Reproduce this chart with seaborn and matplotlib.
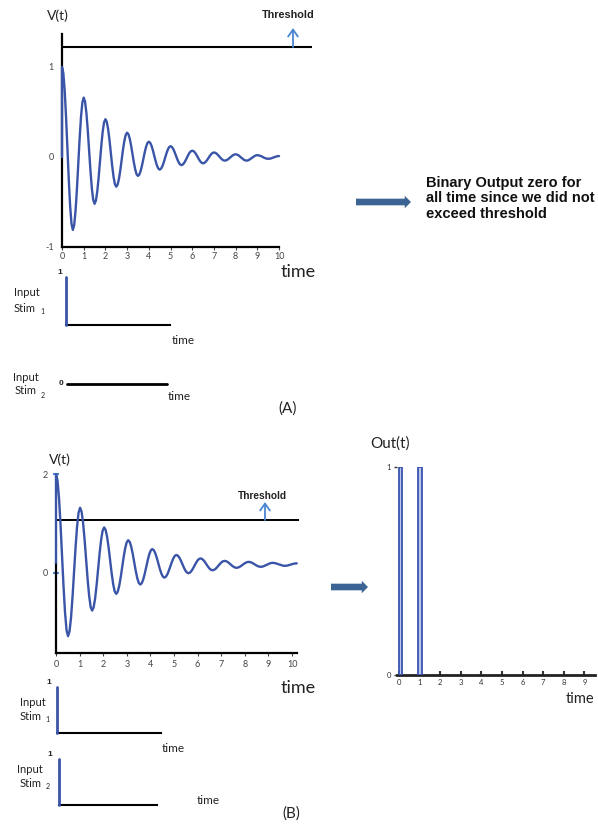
import numpy as np
import pandas as pd
import matplotlib
matplotlib.use("Agg")
import matplotlib.pyplot as plt
import seaborn as sns
from matplotlib.patches import FancyArrowPatch, ArrowStyle

# ---------------- data ----------------
# Panel A: V(t) response, sampled every 0.0625 time units (first point: start at 0)
va_time = [0.0] + list(np.arange(0, 10.0001, 0.0625))
va_values = [0.0,
    1.00, 0.931, 0.735, 0.442, 0.095, -0.252, -0.545, -0.741,
    -0.81, -0.754, -0.595, -0.357, -0.075, 0.207, 0.445, 0.604,
    0.66, 0.615, 0.487, 0.296, 0.07, -0.156, -0.347, -0.475,
    -0.52, -0.484, -0.382, -0.23, -0.05, 0.13, 0.282, 0.384,
    0.42, 0.392, 0.31, 0.189, 0.045, -0.099, -0.22, -0.302,
    -0.33, -0.307, -0.242, -0.145, -0.03, 0.085, 0.182, 0.247,
    0.27, 0.252, 0.20, 0.122, 0.03, -0.062, -0.14, -0.192,
    -0.21, -0.196, -0.154, -0.093, -0.02, 0.053, 0.114, 0.156,
    0.17, 0.158, 0.125, 0.074, 0.015, -0.044, -0.095, -0.128,
    -0.14, -0.13, -0.102, -0.06, -0.01, 0.04, 0.082, 0.11,
    0.12, 0.112, 0.089, 0.055, 0.015, -0.025, -0.059, -0.082,
    -0.09, -0.084, -0.067, -0.041, -0.01, 0.021, 0.047, 0.064,
    0.07, 0.065, 0.05, 0.027, 0.0, -0.027, -0.05, -0.065,
    -0.07, -0.065, -0.052, -0.033, -0.01, 0.013, 0.032, 0.045,
    0.05, 0.047, 0.037, 0.022, 0.005, -0.012, -0.027, -0.037,
    -0.04, -0.037, -0.03, -0.018, -0.005, 0.008, 0.02, 0.027,
    0.03, 0.027, 0.02, 0.008, -0.005, -0.018, -0.03, -0.037,
    -0.04, -0.038, -0.031, -0.021, -0.01, 0.001, 0.011, 0.018,
    0.02, 0.018, 0.014, 0.008, 0.0, -0.008, -0.014, -0.018,
    -0.02, -0.019, -0.016, -0.011, -0.005, 0.001, 0.006, 0.009,
    0.01]

# Panel B: V(t) response, sampled every 0.06375 time units (first point: start at 0.2)
vb_time = [0.0] + list(np.linspace(0, 10.2, 161))
vb_values = [0.2,
    2.00, 1.875, 1.518, 0.985, 0.355, -0.275, -0.808, -1.165,
    -1.29, -1.191, -0.908, -0.485, 0.015, 0.515, 0.938, 1.221,
    1.32, 1.241, 1.014, 0.675, 0.275, -0.125, -0.464, -0.691,
    -0.77, -0.706, -0.522, -0.249, 0.075, 0.399, 0.672, 0.856,
    0.92, 0.869, 0.722, 0.504, 0.245, -0.014, -0.232, -0.379,
    -0.43, -0.389, -0.27, -0.094, 0.115, 0.324, 0.50, 0.619,
    0.66, 0.626, 0.528, 0.382, 0.21, 0.038, -0.108, -0.206,
    -0.24, -0.213, -0.135, -0.018, 0.12, 0.258, 0.375, 0.453,
    0.48, 0.458, 0.395, 0.301, 0.19, 0.079, -0.015, -0.078,
    -0.10, -0.083, -0.033, 0.042, 0.13, 0.218, 0.293, 0.343,
    0.36, 0.346, 0.306, 0.246, 0.175, 0.104, 0.044, 0.004,
    -0.01, 0.001, 0.034, 0.083, 0.14, 0.197, 0.246, 0.279,
    0.29, 0.281, 0.255, 0.216, 0.17, 0.124, 0.085, 0.059,
    0.05, 0.057, 0.078, 0.109, 0.145, 0.181, 0.212, 0.233,
    0.24, 0.235, 0.219, 0.197, 0.17, 0.143, 0.121, 0.105,
    0.10, 0.105, 0.118, 0.137, 0.16, 0.183, 0.202, 0.215,
    0.22, 0.216, 0.205, 0.189, 0.17, 0.151, 0.135, 0.124,
    0.12, 0.123, 0.132, 0.145, 0.16, 0.175, 0.188, 0.197,
    0.20, 0.198, 0.191, 0.181, 0.17, 0.159, 0.149, 0.142,
    0.14, 0.142, 0.147, 0.155, 0.165, 0.175, 0.183, 0.188,
    0.19]

threshold_a = 1.22
threshold_b = 1.07

a_xticks = list(range(0, 11))
a_yticks = [-1, 0, 1]
b_xticks = list(range(0, 11))
b_yticks = [0, 2]

# Stimulus traces
stim_pulse_t = [0, 0]
stim_pulse_v = [0, 1]
stim_zero_t = [0, 10]
stim_zero_v = [0, 0]

# Binary output Out(t)
out_start = [0.0, 0.94]
out_width = [0.16, 0.16]
out_value = [1, 1]
out_xticks = list(range(0, 10))
out_yticks = [0, 1]

# ---------------- style ----------------
sns.set_theme(style="white")
plt.rcParams["font.family"] = ["Lato", "DejaVu Sans"]

BLUE = "#3a55a8"
LBLUE = "#4a86d0"
ARROW = "#3b6394"
TICKC = "#444444"
TXT = "#222222"

W, H = 598, 825
fig = plt.figure(figsize=(W / 100, H / 100), dpi=100)
fig.patch.set_facecolor("white")


def add_ax(x0, y0, x1, y1):
    ax = fig.add_axes([x0 / W, 1 - y1 / H, (x1 - x0) / W, (y1 - y0) / H])
    ax.set_facecolor("none")
    return ax


def ftxt(x, y, s, **kw):
    kw.setdefault("ha", "center")
    kw.setdefault("va", "center")
    kw.setdefault("color", TXT)
    fig.text(x / W, 1 - y / H, s, **kw)


def farrow(x0, y0, x1, y1, style, color, lw=0, ms=10):
    fig.add_artist(FancyArrowPatch((x0 / W, 1 - y0 / H), (x1 / W, 1 - y1 / H),
                                   transform=fig.transFigure, arrowstyle=style,
                                   color=color, lw=lw, mutation_scale=ms,
                                   shrinkA=0, shrinkB=0))


def plain(ax):
    for s in ["top", "right"]:
        ax.spines[s].set_visible(False)


def stim_axes(box, t, v, color, baseline=True):
    ax = add_ax(*box)
    sns.lineplot(x=t, y=v, ax=ax, color=color, lw=2, sort=False, estimator=None)
    ax.set_xlim(0, 10)
    ax.set_ylim(0, 1)
    for s in ["top", "right", "left"]:
        ax.spines[s].set_visible(False)
    if baseline:
        ax.spines["bottom"].set_color("black")
        ax.spines["bottom"].set_linewidth(1.5)
    else:
        ax.spines["bottom"].set_visible(False)
    ax.set_xticks([])
    ax.set_yticks([])
    for ln in ax.lines:
        ln.set_clip_on(False)
        ln.set_zorder(4)
    return ax


BOLD = ["Liberation Sans", "DejaVu Sans"]

# ================= Panel A =================
axA = add_ax(62, 33.7, 311.6, 247)
sns.lineplot(x=va_time, y=va_values, ax=axA, color=BLUE, lw=1.7,
             sort=False, estimator=None)
for ln in axA.lines:
    ln.set_clip_on(False)
    ln.set_zorder(5)
axA.axhline(threshold_a, color="black", lw=1.5)
axA.set_xlim(0, 11.5)
axA.set_ylim(-1, 1.37)
plain(axA)
axA.spines["left"].set_bounds(-1, 1.37)
axA.spines["bottom"].set_bounds(0, 10)
for s in ["left", "bottom"]:
    axA.spines[s].set_color("black")
    axA.spines[s].set_linewidth(1.6)
axA.set_xticks(a_xticks)
axA.set_yticks(a_yticks)
axA.set_yticklabels([str(v) for v in a_yticks])
axA.tick_params(axis="x", length=2, width=0.8, pad=1.5, labelsize=6.5,
                colors=TICKC, direction="out", bottom=True)
axA.tick_params(axis="y", length=0, pad=6, labelsize=6.5, colors=TICKC)

ftxt(58, 16, "V(t)", fontsize=10)
ftxt(288, 15, "Threshold", fontsize=7.8, fontweight="bold", family=BOLD)
farrow(293, 47, 293, 28, ArrowStyle("->", head_length=0.5, head_width=0.35), LBLUE, lw=1.3, ms=10)
ftxt(298, 272, "time", fontsize=13)

# Stim A1
stim_axes((66, 277, 170, 325), stim_pulse_t, stim_pulse_v, BLUE)
ftxt(60, 272, "1", fontsize=6, fontweight="bold", family=BOLD)
ftxt(14, 293, "Input", fontsize=8, ha="left")
ftxt(14, 308, "Stim", fontsize=8, ha="left")
ftxt(40, 311.5, "1", fontsize=5, ha="left")
ftxt(183, 341, "time", fontsize=8.5)

# Stim A2 (zero everywhere)
stim_axes((67, 340, 167, 384), stim_zero_t, stim_zero_v, "black", baseline=False)
ftxt(61, 383.5, "0", fontsize=6, fontweight="bold", family=BOLD)
ftxt(13, 377, "Input", fontsize=8, ha="left")
ftxt(15, 391, "Stim", fontsize=8, ha="left")
ftxt(41, 395.5, "2", fontsize=5, ha="left")
ftxt(179, 396, "time", fontsize=8.5)
ftxt(288, 409, "(A)", fontsize=11)

# Arrow + text for A
farrow(356, 202, 411, 202, ArrowStyle("simple", head_length=0.45, head_width=0.9, tail_width=0.48),
       ARROW, ms=10)
fig.text(426 / W, 1 - 175.5 / H,
         "Binary Output zero for\nall time since we did not\nexceed threshold",
         fontsize=10.5, fontweight="bold", family=BOLD, color="#111",
         ha="left", va="top", linespacing=1.17)

# ================= Panel B =================
axB = add_ax(56, 474.3, 299.1, 653.4)
sns.lineplot(x=vb_time, y=vb_values, ax=axB, color=BLUE, lw=1.7,
             sort=False, estimator=None)
for ln in axB.lines:
    ln.set_clip_on(False)
    ln.set_zorder(5)
axB.axhline(threshold_b, color="black", lw=1.4)
axB.set_xlim(0, 10.3)
axB.set_ylim(-1.64, 2.0)
plain(axB)
axB.spines["left"].set_bounds(-1.64, 0.2)
axB.spines["bottom"].set_bounds(0, 10.2)
for s in ["left", "bottom"]:
    axB.spines[s].set_color("black")
    axB.spines[s].set_linewidth(1.6)
axB.set_xticks(b_xticks)
axB.set_yticks(b_yticks)
axB.set_yticklabels([str(v) for v in b_yticks])
axB.tick_params(axis="x", length=2, width=0.8, pad=2.5, labelsize=6.5,
                colors=TICKC, direction="out", bottom=True)
axB.tick_params(axis="y", length=5, width=1.5, pad=3.5, labelsize=6.5,
                direction="inout", color=LBLUE, labelcolor=TICKC, left=True)

ftxt(60, 460, "V(t)", fontsize=10)
ftxt(262, 496, "Threshold", fontsize=7.3, fontweight="bold", family=BOLD)
farrow(265, 520, 265, 502, ArrowStyle("->", head_length=0.5, head_width=0.35), LBLUE, lw=1.3, ms=10)
ftxt(298, 688, "time", fontsize=13)

# Stim B1
stim_axes((57.3, 687, 160.7, 733.3), stim_pulse_t, stim_pulse_v, BLUE)
ftxt(49, 683, "1", fontsize=6, fontweight="bold", family=BOLD)
ftxt(20, 703, "Input", fontsize=8, ha="left")
ftxt(20, 717, "Stim", fontsize=8, ha="left")
ftxt(45.5, 720, "1", fontsize=5, ha="left")
ftxt(173, 749, "time", fontsize=8.5)

# Stim B2
stim_axes((58.7, 758.7, 156.7, 805), stim_pulse_t, stim_pulse_v, BLUE)
ftxt(49.5, 755, "1", fontsize=6, fontweight="bold", family=BOLD)
ftxt(17.5, 769.5, "Input", fontsize=8, ha="left")
ftxt(20, 783.5, "Stim", fontsize=8, ha="left")
ftxt(45.5, 786.5, "2", fontsize=5, ha="left")
ftxt(208, 800, "time", fontsize=8.5)
ftxt(291, 814, "(B)", fontsize=11)

# Arrow B
farrow(331, 587, 368, 587, ArrowStyle("simple", head_length=0.45, head_width=0.9, tail_width=0.48),
       ARROW, ms=10)

# ================= Out(t) =================
axO = add_ax(396.9, 466.7, 594.7, 674.5)
axO.bar(out_start, out_value, width=out_width, align="edge",
        color="#bcc6e8", edgecolor="#3a55b0", linewidth=1.3, zorder=3)
axO.set_xlim(-0.1, 9.5)
axO.set_ylim(0, 1)
for s in ["top", "right", "left"]:
    axO.spines[s].set_visible(False)
axO.spines["bottom"].set_color("#222")
axO.spines["bottom"].set_linewidth(2)
axO.set_xticks(out_xticks)
axO.set_yticks(out_yticks)
axO.set_yticklabels([str(v) for v in out_yticks])
axO.tick_params(axis="x", length=3, width=1.5, pad=3, labelsize=5.5,
                colors="#333", direction="in", bottom=True)
axO.tick_params(axis="y", length=2.5, width=1, pad=1.5, labelsize=5.5,
                colors="#333", direction="out", left=True)
ftxt(390, 444, "Out(t)", fontsize=11)
ftxt(580, 699, "time", fontsize=10.5)

fig.savefig("out.png", dpi=100, facecolor="white")
